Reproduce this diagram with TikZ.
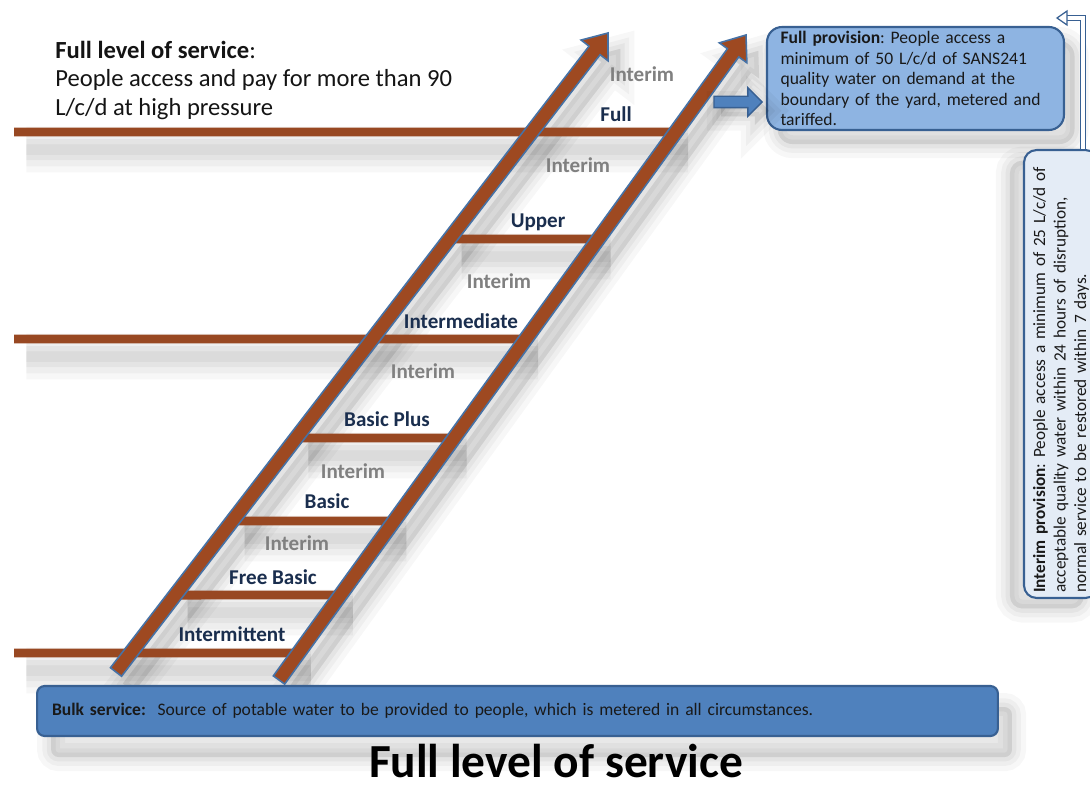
\documentclass[tikz,border=0pt]{standalone}
\usepackage{fontspec}
\setmainfont{Carlito}
\usepackage{tikz}
\usetikzlibrary{calc,shapes.arrows}

\definecolor{railbrown}{RGB}{158,73,33}
\definecolor{railblue}{RGB}{70,114,166}
\definecolor{rungbrown}{RGB}{152,72,34}
\definecolor{stepnavy}{RGB}{26,46,78}
\definecolor{interimgray}{RGB}{128,128,128}
\definecolor{fullfill}{RGB}{142,180,226}
\definecolor{boxborder}{RGB}{56,96,146}
\definecolor{bulkfill}{RGB}{79,129,189}
\definecolor{interimfill}{RGB}{228,236,246}

\tikzset{
  box shadow/.style 2 args={
    preaction={draw=black,fill=black,draw opacity=0.03,fill opacity=0.04,line width=16pt,transform canvas={xshift=#1,yshift=#2}},
    preaction={draw=black,draw opacity=0.035,line width=10pt,transform canvas={xshift=#1,yshift=#2}},
    preaction={draw=black,draw opacity=0.04,line width=5pt,transform canvas={xshift=#1,yshift=#2}},
    preaction={fill=black,fill opacity=0.05,transform canvas={xshift=#1,yshift=#2}}},
  line shadow/.style={
    preaction={draw=black,draw opacity=0.03,line width=26pt,transform canvas={xshift=7pt,yshift=-10pt}},
    preaction={draw=black,draw opacity=0.035,line width=19pt,transform canvas={xshift=7pt,yshift=-10pt}},
    preaction={draw=black,draw opacity=0.04,line width=12pt,transform canvas={xshift=7pt,yshift=-10pt}},
    preaction={draw=black,draw opacity=0.04,line width=6pt,transform canvas={xshift=7pt,yshift=-10pt}}}
}

% one rail of the ladder: options, foot, tip
\newcommand{\ladderrail}[3][]{%
  \coordinate (#2-neck) at ($(#3)!0.44cm!(#2)$);
  \path[#1] ($(#2)!0.14cm!-90:(#3)$) -- ($(#2-neck)!0.14cm!-90:(#3)$)
    -- ($(#2-neck)!0.34cm!-90:(#3)$) -- (#3)
    -- ($(#2-neck)!0.34cm!90:(#3)$) -- ($(#2-neck)!0.14cm!90:(#3)$)
    -- ($(#2)!0.14cm!90:(#3)$) -- cycle;}
% one rung between the rails at height #2
\newcommand{\ladderstep}[2][rung]{%
  \path[#1] (intersection of lf--lt and 0,#2--1,#2) -- (intersection of rf--rt and 0,#2--1,#2);}

\begin{document}
\begin{tikzpicture}[x=0.02cm,y=-0.02cm,
    rung/.style={draw=rungbrown,line width=5.1pt},
    railbody/.style={fill=railbrown,draw=railblue,line width=0.9pt},
    steplabel/.style={font=\fontsize{12}{14}\selectfont\bfseries,text=stepnavy,anchor=base,inner sep=0pt},
    interim/.style={steplabel,text=interimgray},
    lead/.style={anchor=north west,inner sep=0pt,align=left,font=\fontsize{14}{16.3}\selectfont,text=black!92},
    infobox/.style={draw=boxborder,line width=1.2pt,align=left,text=black!90,font=\fontsize{10}{11.7}\selectfont\frenchspacing}]
  \useasboundingbox[fill=white] (0,0) rectangle (1090,787);

  \coordinate (lf) at (116,672);
  \coordinate (lt) at (608,33);
  \coordinate (rf) at (279,680);
  \coordinate (rt) at (746,35);

  % shadows
  \path[line shadow] (14,132) -- (intersection of rf--rt and 0,132--1,132);
  \path[line shadow] (14,339) -- (intersection of rf--rt and 0,339--1,339);
  \path[line shadow] (14,653) -- (intersection of rf--rt and 0,653--1,653);
  \ladderstep[line shadow]{239}
  \ladderstep[line shadow]{438}
  \ladderstep[line shadow]{521}
  \ladderstep[line shadow]{595}
  \ladderrail[box shadow={7pt}{-9pt}]{lf}{lt}
  \ladderrail[box shadow={7pt}{-9pt}]{rf}{rt}

  % rungs
  \path[rung] (14,132) -- (intersection of rf--rt and 0,132--1,132);
  \path[rung] (14,339) -- (intersection of rf--rt and 0,339--1,339);
  \path[rung] (14,653) -- (intersection of rf--rt and 0,653--1,653);
  \ladderstep{239}
  \ladderstep{438}
  \ladderstep{521}
  \ladderstep{595}

  % rails
  \ladderrail[railbody]{lf}{lt}
  \ladderrail[railbody]{rf}{rt}

  % labels
  \node[interim] (i6) at (642,82) {Interim};
  \node[steplabel] (full) at (616,122) {Full};
  \node[interim] (i5) at (578,173) {Interim};
  \node[steplabel] (upper) at (538,228) {Upper};
  \node[interim] (i4) at (499,289) {Interim};
  \node[steplabel] (inter) at (461,329) {Intermediate};
  \node[interim] (i3) at (423,379) {Interim};
  \node[steplabel] (plus) at (387,427) {Basic Plus};
  \node[interim] (i2) at (353,479) {Interim};
  \node[steplabel] (basic) at (327,509) {Basic};
  \node[interim] (i1) at (297,551) {Interim};
  \node[steplabel] (free) at (273,584) {Free Basic};
  \node[steplabel] (intermit) at (232,642) {Intermittent};

  \node[lead] (lead) at (55,40.5) {\textbf{Full level of service}:\\People access and pay for more than 90\\L/c/d at high pressure};

  % boxes
  \node[infobox,fill=fullfill,box shadow={6pt}{-8pt},rounded corners=0.3cm,minimum width=5.94cm,minimum height=2.06cm,
    text width=5.4cm,inner xsep=0.27cm,inner ysep=0pt] (fp) at (915.5,78.5)
    {\textbf{Full provision}: People access a\\minimum of 50 L/c/d of SANS241\\quality water on demand at the\\boundary of the yard, metered and\\tariffed.};
  \node[single arrow,fill=bulkfill,draw=boxborder,line width=0.8pt,box shadow={4pt}{-5pt},minimum height=0.96cm,minimum width=0.54cm,
    inner sep=0.1cm,single arrow head extend=0.17cm,anchor=tip] (ar) at (763,102) {};
  \node[infobox,fill=interimfill,box shadow={-8pt}{-6pt},rounded corners=0.25cm,rotate=90,minimum width=8.96cm,minimum height=1.48cm,
    text width=8.75cm,inner xsep=0.1cm,inner ysep=0pt,font=\fontsize{9.8}{11.7}\selectfont\frenchspacing] (ip) at (1061,374)
    {\textbf{Interim provision}: People access a minimum of 25 L/c/d of\\acceptable quality water within 24 hours of disruption,\\normal service to be restored within 7 days.};
  \node[infobox,fill=bulkfill,box shadow={8pt}{-12pt},rounded corners=0.15cm,minimum width=19.22cm,minimum height=1cm,
    text width=18.62cm,inner xsep=0.3cm,inner ysep=0pt] (bulk) at (517.5,711)
    {\textbf{Bulk service:}~ Source of potable water to be provided to people, which is metered in all circumstances.};

  % connector leaving the interim box
  \coordinate (bend) at (1083,18);
  \coordinate (headbase) at (1067,18);
  \draw[draw=boxborder,double=white,double distance=2pt,line width=0.7pt] (bend |- ip.east) -- (bend) -- (headbase);
  \draw[draw=boxborder,fill=white,line width=0.7pt] (headbase) -- ++(0,-7) -- ++(-10,7) -- ++(10,7) -- cycle;

  \node[font=\fontsize{27}{30}\selectfont\bfseries,anchor=base,inner sep=0pt] (title) at (556,777) {Full level of service};
\end{tikzpicture}
\end{document}
